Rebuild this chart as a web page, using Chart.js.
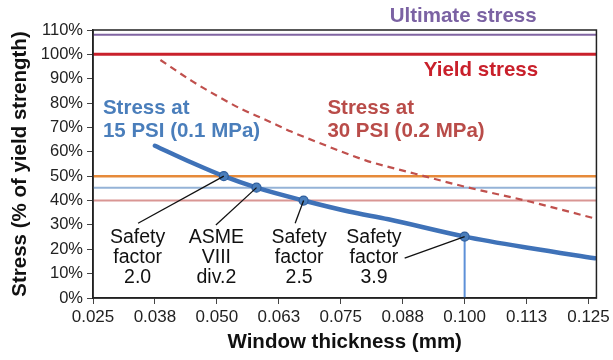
<!DOCTYPE html>
<html lang="en">
<head>
  <meta charset="UTF-8">
  <title>Window stress vs thickness</title>
  <script src="https://cdn.jsdelivr.net/npm/chart.js@4.4.1/dist/chart.umd.min.js"></script>
  <style>
    html, body { margin: 0; padding: 0; background: #fff; }
    #wrap { width: 613px; height: 360px; }
  </style>
</head>
<body>
<div id="wrap"><canvas id="stressChart" width="613" height="360"></canvas></div>
<script>
  // ticks
  const xTicks = [0.025, 0.0375, 0.05, 0.0625, 0.075, 0.0875, 0.1, 0.1125, 0.125];
  const xTickLabels = ['0.025', '0.038', '0.050', '0.063', '0.075', '0.088', '0.100', '0.113', '0.125'];
  const xMin = 0.025, xMax = 0.1266;

  // stress at 15 psi (solid blue)
  const lowX = [0.0375, 0.045, 0.0514, 0.058, 0.0675, 0.0766, 0.0846, 0.1, 0.1134, 0.1263];
  const lowY = [62.5, 55.5, 50, 45.3, 40, 35.5, 32.3, 25.2, 20.4, 16.3];

  // stress at 30 psi (dashed red)
  const highX = [0.0386, 0.045, 0.05, 0.055, 0.06, 0.065, 0.07, 0.08, 0.09, 0.1, 0.1133, 0.1262];
  const highY = [97.7, 89, 83, 77.5, 73, 68.3, 64.2, 56.5, 51, 45.7, 39.5, 32.7];

  // reference levels
  const refNames = ['Ultimate stress', 'Yield stress', 'Safety factor 2.0', 'ASME VIII div.2', 'Safety factor 2.5'];
  const refLevels = [108, 100, 50, 45.3, 40];

  // marked points on the 15 psi curve
  const markX = [0.0514, 0.058, 0.0675, 0.1];
  const markY = [50, 45.3, 40, 25.2];
  const markText = [['Safety', 'factor', '2.0'], ['ASME', 'VIII', 'div.2'], ['Safety', 'factor', '2.5'], ['Safety', 'factor', '3.9']];

  const FONT = '"Liberation Sans", Arial, sans-serif';
  const refColors = ['#8064a2', '#c9202b', '#e68a3a', '#95b3d7', '#d99694'];
  const refWidths = [2, 3, 2.5, 2, 2];

  // where the callout text sits (data units) and where its leader starts
  const callouts = [
    { x: 0.0340, y: 24.6, lx: 0.0341, ly: 30.7 },
    { x: 0.0499, y: 24.6, lx: 0.0498, ly: 30.0 },
    { x: 0.0666, y: 24.6, lx: 0.0658, ly: 30.7 },
    { x: 0.0817, y: 24.6, lx: 0.0879, ly: 16.4 }
  ];
  const headings = [
    { lines: ['Ultimate stress'], x: 0.0997, y: 115.6, align: 'center', color: '#7b62a3' },
    { lines: ['Yield stress'], x: 0.1033, y: 93.6, align: 'center', color: '#c9202b' },
    { lines: ['Stress at', '15 PSI (0.1 MPa)'], x: 0.0270, y: 78.0, align: 'left', color: '#4a7ebb' },
    { lines: ['Stress at', '30 PSI (0.2 MPa)'], x: 0.0723, y: 78.0, align: 'left', color: '#b94c49' }
  ];

  const pts = (xs, ys) => xs.map((x, i) => ({ x, y: ys[i] }));

  const datasets = [];
  datasets.push({
    label: 'points', data: pts(markX, markY), showLine: false,
    pointRadius: 4.5, pointBackgroundColor: '#4a7ebb', pointBorderColor: '#2f5f9e', pointBorderWidth: 1.2
  });
  datasets.push({
    label: 'Stress at 15 PSI', data: pts(lowX, lowY), borderColor: '#3f72b8', borderWidth: 4.5,
    pointRadius: 0, cubicInterpolationMode: 'monotone', borderCapStyle: 'round'
  });
  datasets.push({
    label: 'check', data: [{ x: markX[3], y: 0 }, { x: markX[3], y: markY[3] }],
    borderColor: '#5d90d8', borderWidth: 2, pointRadius: 0
  });
  datasets.push({
    label: 'Stress at 30 PSI', data: pts(highX, highY), borderColor: '#c0504d', borderWidth: 2.2,
    borderDash: [7, 5], pointRadius: 0, cubicInterpolationMode: 'monotone'
  });
  refLevels.forEach((lv, i) => {
    datasets.push({
      label: refNames[i], data: [{ x: xMin, y: lv }, { x: xMax, y: lv }],
      borderColor: refColors[i], borderWidth: refWidths[i], pointRadius: 0
    });
  });

  const overlay = {
    id: 'overlay',
    afterDatasetsDraw(chart) {
      const ctx = chart.ctx, xs = chart.scales.x, ys = chart.scales.y;
      ctx.save();
      // leaders
      ctx.strokeStyle = '#111';
      ctx.lineWidth = 1.3;
      callouts.forEach((c, i) => {
        ctx.beginPath();
        ctx.moveTo(xs.getPixelForValue(c.lx), ys.getPixelForValue(c.ly));
        ctx.lineTo(xs.getPixelForValue(markX[i]), ys.getPixelForValue(markY[i]));
        ctx.stroke();
      });
      // box
      const a = chart.chartArea;
      ctx.strokeStyle = '#222';
      ctx.lineWidth = 1.5;
      ctx.strokeRect(a.left, a.top, a.right - a.left, a.bottom - a.top);
      // callout text
      ctx.fillStyle = '#111';
      ctx.font = '19.5px ' + FONT;
      ctx.textAlign = 'center';
      ctx.textBaseline = 'middle';
      callouts.forEach((c, i) => {
        const px = xs.getPixelForValue(c.x), py = ys.getPixelForValue(c.y);
        markText[i].forEach((s, j) => ctx.fillText(s, px, py + j * 20));
      });
      // headings
      ctx.font = 'bold 20.5px ' + FONT;
      headings.forEach(h => {
        ctx.fillStyle = h.color;
        ctx.textAlign = h.align;
        const px = xs.getPixelForValue(h.x), py = ys.getPixelForValue(h.y);
        h.lines.forEach((s, j) => ctx.fillText(s, px, py + j * 23.5));
      });
      ctx.restore();
    }
  };

  new Chart(document.getElementById('stressChart'), {
    type: 'line',
    data: { datasets },
    options: {
      responsive: false,
      animation: false,
      layout: { padding: { top: 30, right: 14, left: 0, bottom: 0 } },
      plugins: { legend: { display: false }, tooltip: { enabled: false } },
      scales: {
        x: {
          type: 'linear', min: xMin, max: xMax,
          afterBuildTicks: s => { s.ticks = xTicks.map(v => ({ value: v })); },
          afterFit: s => { s.height = 62; },
          ticks: {
            autoSkip: false, maxRotation: 0, padding: 3, color: '#222',
            font: { family: FONT, size: 17 },
            callback: (v, i) => xTickLabels[i]
          },
          grid: { drawOnChartArea: false, tickLength: 6, color: '#444' },
          border: { color: '#222', width: 1.5 },
          title: {
            display: true, text: 'Window thickness (mm)', color: '#111',
            font: { family: FONT, size: 20.5, weight: 'bold' }, padding: { top: 0, bottom: 5 }
          }
        },
        y: {
          min: 0, max: 110,
          afterFit: s => { s.width = 93; },
          ticks: {
            stepSize: 10, padding: 4, color: '#222',
            font: { family: FONT, size: 16.5 },
            callback: v => v + '%'
          },
          grid: { drawOnChartArea: false, tickLength: 6, color: '#444' },
          border: { color: '#222', width: 1.5 },
          title: {
            display: true, text: 'Stress (% of yield strength)', color: '#111',
            font: { family: FONT, size: 20.5, weight: 'bold' }, padding: { top: 8, bottom: 0 }
          }
        }
      }
    },
    plugins: [overlay]
  });
</script>
</body>
</html>
